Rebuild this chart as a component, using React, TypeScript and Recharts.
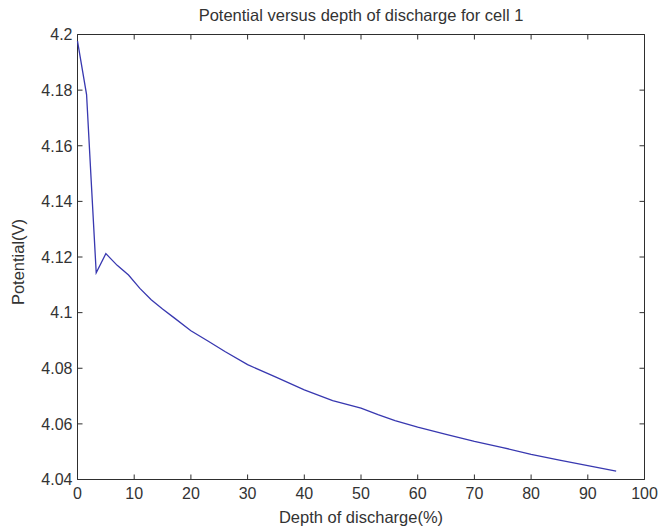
import React from 'react';
import { LineChart, Line, XAxis, YAxis, Label, ReferenceLine } from 'recharts';

const depth = [0, 1.6, 2.4, 3.3, 5, 7, 9, 11, 13, 15, 17, 20, 23, 26, 30, 35, 40, 45, 50, 53, 56, 60, 65, 70, 75, 80, 85, 90, 95];
const potential = [
  4.1976, 4.1784, 4.148, 4.1143, 4.1212, 4.117, 4.1135, 4.1087, 4.1046, 4.1013,
  4.0982, 4.0935, 4.0898, 4.086, 4.0813, 4.0768, 4.0722, 4.0684, 4.0657, 4.0633,
  4.0612, 4.0588, 4.0562, 4.0537, 4.0515, 4.049, 4.047, 4.045, 4.043,
];
const xTicks = [0, 10, 20, 30, 40, 50, 60, 70, 80, 90, 100];
const yTicks = [4.04, 4.06, 4.08, 4.1, 4.12, 4.14, 4.16, 4.18, 4.2];
const xDomain = [0, 100];
const yDomain = [4.04, 4.2];

const title = 'Potential versus depth of discharge for cell 1';
const xTitle = 'Depth of discharge(%)';
const yTitle = 'Potential(V)';

const data = depth.map((d, i) => ({ depth: d, potential: potential[i] }));

// layout (half pixels so the 1px frame is crisp)
const W = 659;
const H = 531;
const margin = { top: 34.5, right: 14.5, bottom: 21.5, left: 37.5 };
const yAxisW = 40;
const xAxisH = 30;
const plotTop = margin.top;
const plotLeft = margin.left + yAxisW;
const plotRight = W - margin.right;
const TICK = 5;

const font = 'Arial, "Liberation Sans", sans-serif';
const axisColor = '#2e2e2e';
const textColor = '#333';

const fmtY = (v: number) => Number(v.toFixed(2)).toString();

// bottom ticks: inward tick at bottom and top edge + label
const XTick = ({ x, y, payload }: any) => (
  <g>
    <line x1={x} x2={x} y1={y} y2={y - TICK} stroke={axisColor} />
    <line x1={x} x2={x} y1={plotTop} y2={plotTop + TICK} stroke={axisColor} />
    <text x={x} y={y + 8.5} dy="0.71em" textAnchor="middle" fontSize={16} fontFamily={font} fill={textColor}>
      {payload.value}
    </text>
  </g>
);

// left ticks: inward tick at left and right edge + label
const YTick = ({ x, y, payload }: any) => (
  <g>
    <line x1={x} x2={x + TICK} y1={y} y2={y} stroke={axisColor} />
    <line x1={plotRight} x2={plotRight - TICK} y1={y} y2={y} stroke={axisColor} />
    <text x={x - 5} y={y} dy="0.36em" textAnchor="end" fontSize={16} fontFamily={font} fill={textColor}>
      {fmtY(payload.value)}
    </text>
  </g>
);

export default function App() {
  return (
    <div style={{ position: 'absolute', left: 0, top: 0, width: W, height: H, background: '#fff' }}>
      <svg width={W} height={30} style={{ position: 'absolute', left: 0, top: 0 }}>
        <text x={(plotLeft + plotRight) / 2} y={21} textAnchor="middle" fontSize={16.5} fontFamily={font} fill={textColor}>
          {title}
        </text>
      </svg>
      <LineChart width={W} height={H} data={data} margin={margin} style={{ position: 'absolute', left: 0, top: 0 }}>
        <XAxis
          dataKey="depth"
          type="number"
          domain={xDomain}
          ticks={xTicks}
          height={xAxisH}
          tickSize={0}
          tickMargin={0}
          tickLine={false}
          axisLine={false}
          tick={<XTick />}
          interval={0}
        >
          <Label
            content={({ viewBox }: any) => (
              <text
                x={viewBox.x + viewBox.width / 2}
                y={viewBox.y + 43}
                textAnchor="middle"
                fontSize={16.5}
                fontFamily={font}
                fill={textColor}
              >
                {xTitle}
              </text>
            )}
          />
        </XAxis>
        <YAxis
          type="number"
          domain={yDomain}
          ticks={yTicks}
          width={yAxisW}
          tickSize={0}
          tickMargin={0}
          tickLine={false}
          axisLine={false}
          tick={<YTick />}
          interval={0}
        >
          <Label
            content={({ viewBox }: any) => {
              const x = viewBox.x - 14;
              const y = viewBox.y + viewBox.height / 2 + 5;
              return (
                <text
                  x={x}
                  y={y}
                  transform={`rotate(-90, ${x}, ${y})`}
                  textAnchor="middle"
                  fontSize={16.5}
                  fontFamily={font}
                  fill={textColor}
                >
                  {yTitle}
                </text>
              );
            }}
          />
        </YAxis>
        <ReferenceLine x={xDomain[0]} stroke={axisColor} />
        <ReferenceLine x={xDomain[1]} stroke={axisColor} />
        <ReferenceLine y={yDomain[0]} stroke={axisColor} />
        <ReferenceLine y={yDomain[1]} stroke={axisColor} />
        <Line
          type="linear"
          dataKey="potential"
          stroke="#3838b0"
          strokeWidth={1.3}
          dot={false}
          isAnimationActive={false}
        />
      </LineChart>
    </div>
  );
}
